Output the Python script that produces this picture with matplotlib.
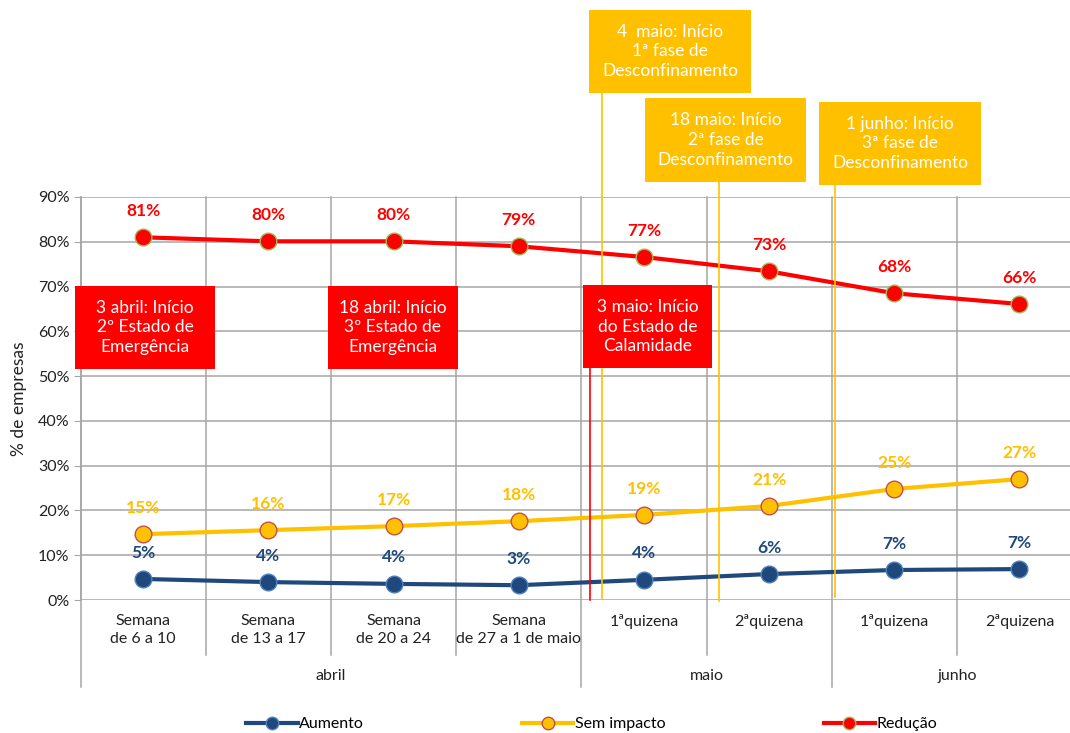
import matplotlib
matplotlib.use("Agg")
import matplotlib.pyplot as plt
from matplotlib.patches import Rectangle
from matplotlib.lines import Line2D
import numpy as np

plt.rcParams['font.family'] = ['Lato', 'DejaVu Sans']

categories = ["Semana\nde 6 a 10", "Semana\nde 13 a 17", "Semana\nde 20 a 24",
              "Semana\nde 27 a 1 de maio", "1ªquizena", "2ªquizena", "1ªquizena", "2ªquizena"]
months = ["abril", "maio", "junho"]
month_spans = [(0, 4), (4, 6), (6, 8)]

aumento = [4.7, 4.0, 3.6, 3.3, 4.5, 5.8, 6.7, 6.9]
aumento_lbl = [5, 4, 4, 3, 4, 6, 7, 7]
sem_impacto = [14.7, 15.6, 16.5, 17.6, 19.0, 21.0, 24.8, 27.0]
sem_impacto_lbl = [15, 16, 17, 18, 19, 21, 25, 27]
reducao = [81.0, 80.1, 80.1, 79.0, 76.6, 73.4, 68.5, 66.1]
reducao_lbl = [81, 80, 80, 79, 77, 73, 68, 66]

W, H = 1070, 733
fig = plt.figure(figsize=(W / 100, H / 100), dpi=100)

def fx(px):
    return px / W

def fy(py):
    return 1 - py / H

ax = fig.add_axes([fx(80.7), fy(600), fx(1082) - fx(80.7), fy(197) - fy(600)])
x = np.arange(len(categories))
ax.set_xlim(-0.5, len(categories) - 0.5)
ax.set_ylim(0, 90)

grid_c = '#A6A6A6'
for yv in range(10, 100, 10):
    ax.axhline(yv, color=grid_c, lw=1.1, zorder=1)
ax.axhline(0, color=grid_c, lw=1.1, zorder=1)

# vertical category separators
trans = ax.get_xaxis_transform()
for b in range(0, len(categories) + 1):
    xb = b - 0.5
    long = b in (0, 4, 6, 8)
    ybot = -(687 - 600) / 403 if long else -(655 - 600) / 403
    ax.plot([xb, xb], [ybot, 1], color=grid_c, lw=1.1, transform=trans, clip_on=False, zorder=1)

for s in ['top', 'right', 'bottom']:
    ax.spines[s].set_visible(False)
ax.spines['left'].set_color(grid_c)
ax.spines['left'].set_linewidth(1.1)

ax.set_yticks(range(0, 100, 10))
ax.set_yticklabels([f"{v}%" for v in range(0, 100, 10)], fontsize=11.5, color='#222222')
ax.tick_params(axis='y', length=5, color=grid_c, pad=3)
ax.set_xticks(x)
ax.set_xticklabels(categories, fontsize=11.5, color='#222222', linespacing=1.35)
ax.tick_params(axis='x', length=0, pad=10)

for (a, b), m in zip(month_spans, months):
    ax.text((a + b - 1) / 2, -(676 - 600) / 403, m, transform=trans, ha='center', va='center',
            fontsize=11.5, color='#222222')

ax.set_ylabel("% de empresas", fontsize=12.5, color='#222222', labelpad=8)

blue = '#1F497D'
yellow = '#FFC000'
red = '#FF0000'

ax.plot(x, aumento, color=blue, lw=3, marker='o', ms=12, mfc=blue, mec='#4F81BD', mew=1, zorder=5, label='Aumento')
ax.plot(x, sem_impacto, color=yellow, lw=3, marker='o', ms=12, mfc=yellow, mec='#C0504D', mew=1, zorder=5, label='Sem impacto')
ax.plot(x, reducao, color=red, lw=3, marker='o', ms=12, mfc=red, mec='#9BBB59', mew=1, zorder=5, label='Redução')

for xs, ys, ls, c in [(x, aumento, aumento_lbl, blue), (x, sem_impacto, sem_impacto_lbl, yellow),
                      (x, reducao, reducao_lbl, red)]:
    for xi, yi, li in zip(xs, ys, ls):
        ax.annotate(f"{li}%", (xi, yi), xytext=(0, 19), textcoords='offset points', ha='center',
                    va='center', fontsize=12.5, fontweight='bold', color=c, zorder=6)

# event lines (figure pixel coords)
event_lines = [(590, 368, 600, red), (602, 93, 598, yellow), (719, 182, 601, yellow), (835, 185, 597, yellow)]
for xp, y0, y1, c in event_lines:
    fig.add_artist(Line2D([fx(xp), fx(xp)], [fy(y0), fy(y1)], color=c, lw=1.2, zorder=7))

boxes = [
    (75, 286, 215, 369, red, "3 abril: Início\n2º Estado de\nEmergência"),
    (328, 286, 458, 369, red, "18 abril: Início\n3º Estado de\nEmergência"),
    (583, 285, 712, 368, red, "3 maio: Início\ndo Estado de\nCalamidade"),
    (589, 10, 751, 93, yellow, "4  maio: Início\n1ª fase de\nDesconfinamento"),
    (645, 98, 806, 182, yellow, "18 maio: Início\n2ª fase de\nDesconfinamento"),
    (819, 102, 981, 185, yellow, "1 junho: Início\n3ª fase de\nDesconfinamento"),
]
for x0, y0, x1, y1, c, t in boxes:
    fig.add_artist(Rectangle((fx(x0), fy(y1)), fx(x1) - fx(x0), fy(y0) - fy(y1), transform=fig.transFigure,
                             facecolor=c, edgecolor='none', zorder=8))
    fig.text(fx((x0 + x1) / 2), fy((y0 + y1) / 2), t, ha='center', va='center', color='white',
             fontsize=12.5, linespacing=1.3, zorder=9)

handles = [Line2D([], [], color=blue, lw=3, marker='o', ms=9, mfc=blue, mec='#4F81BD'),
           Line2D([], [], color=yellow, lw=3, marker='o', ms=9, mfc=yellow, mec='#C0504D'),
           Line2D([], [], color=red, lw=3, marker='o', ms=9, mfc=red, mec='#9BBB59')]
fig.legend(handles, ['Aumento', 'Sem impacto', 'Redução'], loc='center', bbox_to_anchor=(0.553, fy(724)),
           ncol=3, frameon=False, fontsize=11.5, handlelength=3.2, handletextpad=0.1, columnspacing=9.9)

fig.savefig("out.png", dpi=100)
